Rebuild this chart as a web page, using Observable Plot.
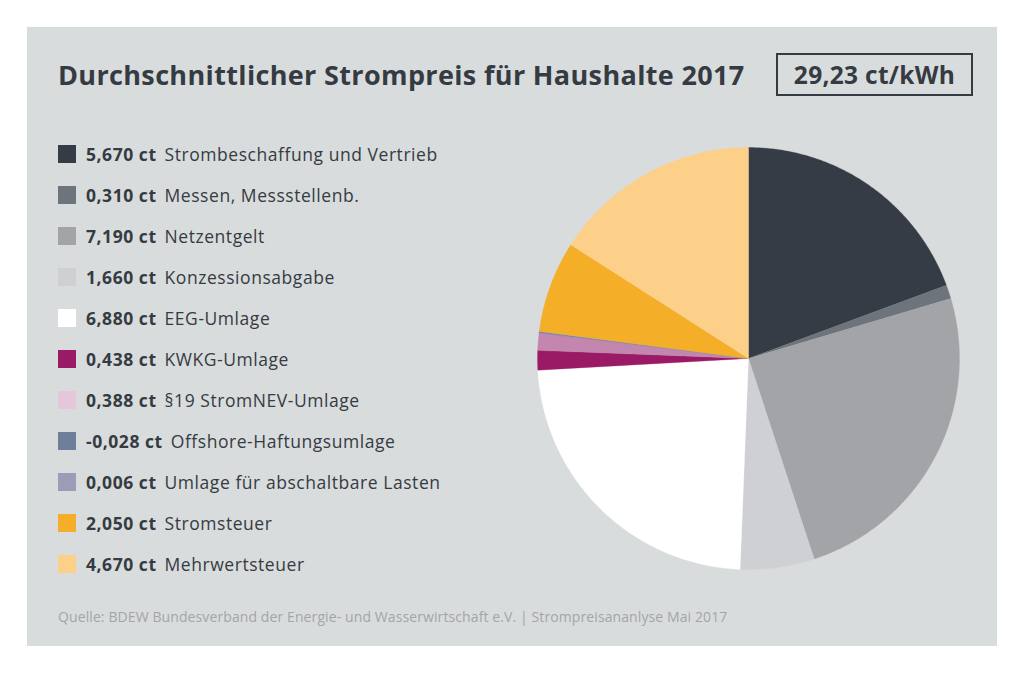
<!DOCTYPE html>
<html>
<head>
<meta charset="utf-8">
<script src="https://cdn.jsdelivr.net/npm/d3@7"></script>
<script src="https://cdn.jsdelivr.net/npm/@observablehq/plot@0.6"></script>
<style>
  html, body { margin: 0; padding: 0; background: #ffffff; }
  body { width: 1024px; height: 674px; position: relative; overflow: hidden; font-family: "Open Sans", sans-serif; color: #353b42; }
  #panel { position: absolute; left: 27px; top: 27px; width: 970px; height: 619px; background: #d9dcdd; }
  #title { position: absolute; left: 31px; top: 29px; font-size: 27px; font-weight: 700; white-space: nowrap; letter-spacing: 0.35px; }
  #total { position: absolute; left: 749px; top: 26px; width: 193px; height: 39px; border: 2px solid #353b42; box-sizing: content-box; font-size: 24.5px; font-weight: 700; text-align: center; line-height: 39px; letter-spacing: 0.3px; }
  #legend { position: absolute; left: 31px; top: 118px; }
  .row { position: absolute; left: 0; height: 18px; white-space: nowrap; }
  .sw { position: absolute; left: 0; top: 0; width: 18px; height: 18px; }
  .txt { position: absolute; left: 28px; top: -4px; font-size: 17.5px; line-height: 26px; letter-spacing: 0.55px; }
  .txt b { font-weight: 700; margin-right: 8px; }
  #source { position: absolute; left: 31px; top: 580px; font-size: 14px; letter-spacing: 0.1px; color: #a2a6aa; white-space: nowrap; }
  #pie { position: absolute; left: 509.5px; top: 120px; }
</style>
</head>
<body>
<div id="panel">
  <div id="title"></div>
  <div id="total"></div>
  <div id="legend"></div>
  <div id="pie"></div>
  <div id="source"></div>
</div>
<script>
// ---- data ----
const titleText = "Durchschnittlicher Strompreis für Haushalte 2017";
const totalText = "29,23 ct/kWh";
const sourceText = "Quelle: BDEW Bundesverband der Energie- und Wasserwirtschaft e.V. | Strompreisananlyse Mai 2017";
const categories = [
  "Strombeschaffung und Vertrieb",
  "Messen, Messstellenb.",
  "Netzentgelt",
  "Konzessionsabgabe",
  "EEG-Umlage",
  "KWKG-Umlage",
  "§19 StromNEV-Umlage",
  "Offshore-Haftungsumlage",
  "Umlage für abschaltbare Lasten",
  "Stromsteuer",
  "Mehrwertsteuer"
];
const values = [5.670, 0.310, 7.190, 1.660, 6.880, 0.438, 0.388, -0.028, 0.006, 2.050, 4.670];
const valueLabels = ["5,670 ct", "0,310 ct", "7,190 ct", "1,660 ct", "6,880 ct", "0,438 ct", "0,388 ct", "-0,028 ct", "0,006 ct", "2,050 ct", "4,670 ct"];
const legendColors = ["#363c45", "#6e747c", "#a3a4a8", "#cfd0d3", "#ffffff", "#9b1a65", "#e6c6da", "#6e8099", "#9c9cb8", "#f5ae28", "#fcd088"];
const sliceColors  = ["#363c45", "#6e747c", "#a3a4a8", "#cfd0d3", "#ffffff", "#9b1a65", "#c386ae", "#6e8099", "#9c9cb8", "#f5ae28", "#fcd088"];

// ---- text ----
document.getElementById("title").textContent = titleText;
document.getElementById("total").textContent = totalText;
document.getElementById("source").textContent = sourceText;

const legend = document.getElementById("legend");
categories.forEach((c, i) => {
  const row = document.createElement("div");
  row.className = "row";
  row.style.top = (i * 41) + "px";
  const sw = document.createElement("div");
  sw.className = "sw";
  sw.style.background = legendColors[i];
  const t = document.createElement("div");
  t.className = "txt";
  const b = document.createElement("b");
  b.textContent = valueLabels[i];
  t.appendChild(b);
  t.appendChild(document.createTextNode(c));
  row.appendChild(sw);
  row.appendChild(t);
  legend.appendChild(row);
});

// ---- pie ----
const mags = values.map(Math.abs);
const total = d3.sum(mags);
const pts = [];
let acc = 0;
categories.forEach((c, i) => {
  const a0 = acc / total * 2 * Math.PI;
  acc += mags[i];
  const a1 = acc / total * 2 * Math.PI;
  const n = Math.max(2, Math.ceil((a1 - a0) / (Math.PI / 360)));
  pts.push({key: c, color: sliceColors[i], x: 0, y: 0});
  for (let k = 0; k <= n; k++) {
    const a = a0 + (a1 - a0) * k / n;
    pts.push({key: c, color: sliceColors[i], x: Math.sin(a), y: Math.cos(a)});
  }
  pts.push({key: c, color: sliceColors[i], x: 0, y: 0});
});

const size = 422;
const pie = Plot.plot({
  width: size,
  height: size,
  margin: 0,
  x: {domain: [-1, 1], axis: null},
  y: {domain: [-1, 1], axis: null},
  style: {background: "transparent", overflow: "visible"},
  marks: [
    Plot.line(pts, {x: "x", y: "y", z: "key", fill: "color", stroke: "color", strokeWidth: 0.3, curve: "linear"})
  ]
});
document.getElementById("pie").appendChild(pie);
</script>
</body>
</html>
